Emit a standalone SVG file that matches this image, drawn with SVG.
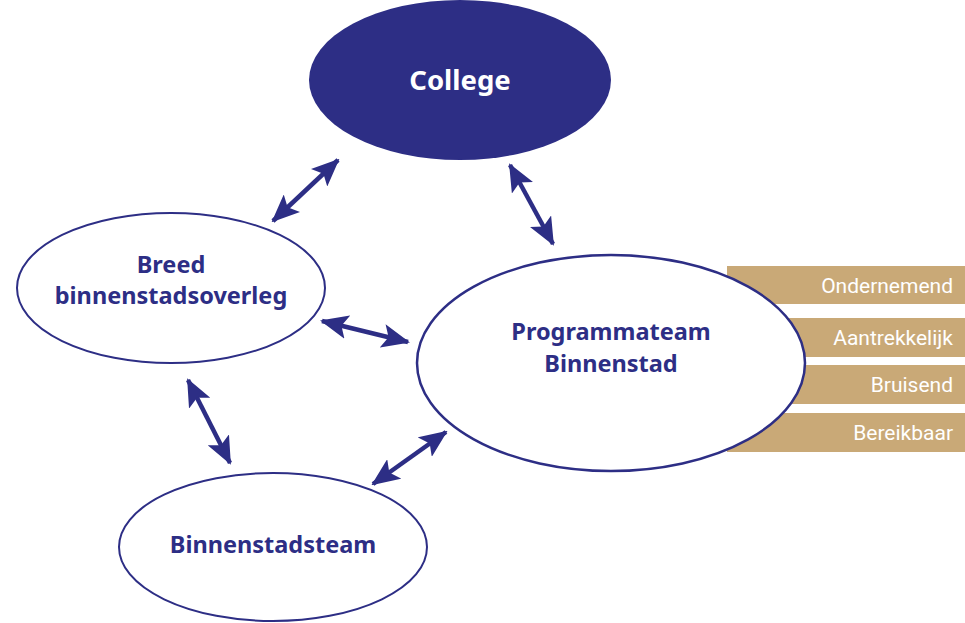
<svg xmlns="http://www.w3.org/2000/svg" width="965" height="623" viewBox="0 0 965 623">
<style>
.bar{fill:#c9a977}
.bt{font-family:Roboto,"Liberation Sans",sans-serif;font-size:21px;fill:#fff;text-anchor:end}
.node{fill:#fff;stroke:#2d2e85;stroke-width:2}
.lbl{font-family:"Noto Sans","Liberation Sans",sans-serif;font-weight:bold;font-size:23.5px;fill:#2d2e85;text-anchor:middle}
.con{stroke:#2d2e85;stroke-width:4.5;fill:none;marker-start:url(#ah);marker-end:url(#ah)}
</style>
<defs>
<marker id="ah" markerUnits="userSpaceOnUse" markerWidth="28" markerHeight="24" viewBox="0 0 28 24" refX="26" refY="12" orient="auto-start-reverse">
<path d="M0,0 L28,12 L0,24 L6,12 Z" fill="#2d2e85"/>
</marker>
</defs>
<rect width="965" height="623" fill="#fff"/>
<g id="bars">
<rect class="bar" x="727" y="266" width="238" height="38"/>
<text class="bt" x="953" y="293">Ondernemend</text>
<rect class="bar" x="727" y="318" width="238" height="39"/>
<text class="bt" x="953" y="345">Aantrekkelijk</text>
<rect class="bar" x="727" y="365" width="238" height="39"/>
<text class="bt" x="953" y="392">Bruisend</text>
<rect class="bar" x="727" y="413" width="238" height="39"/>
<text class="bt" x="953" y="440">Bereikbaar</text>
</g>
<g id="college">
<ellipse cx="460" cy="80" rx="151" ry="80" fill="#2d2e85"/>
<text class="lbl" x="460" y="90" style="fill:#fff;font-size:27.5px">College</text>
</g>
<g id="breed">
<ellipse class="node" cx="171" cy="288" rx="154" ry="75"/>
<text class="lbl" x="171" y="273">Breed</text>
<text class="lbl" x="171" y="304">binnenstadsoverleg</text>
</g>
<g id="programmateam">
<ellipse class="node" cx="611" cy="363" rx="194" ry="108" style="stroke-width:2.5"/>
<text class="lbl" x="611" y="340">Programmateam</text>
<text class="lbl" x="611" y="372">Binnenstad</text>
</g>
<g id="binnenstadsteam">
<ellipse class="node" cx="273" cy="547" rx="154" ry="74"/>
<text class="lbl" x="273" y="553">Binnenstadsteam</text>
</g>
<g id="connectors">
<line class="con" x1="338" y1="160" x2="273" y2="221"/>
<line class="con" x1="510" y1="165" x2="553" y2="244"/>
<line class="con" x1="322" y1="321" x2="408" y2="342"/>
<line class="con" x1="446" y1="432" x2="373" y2="484"/>
<line class="con" x1="188" y1="380" x2="230" y2="463"/>
</g>
</svg>
